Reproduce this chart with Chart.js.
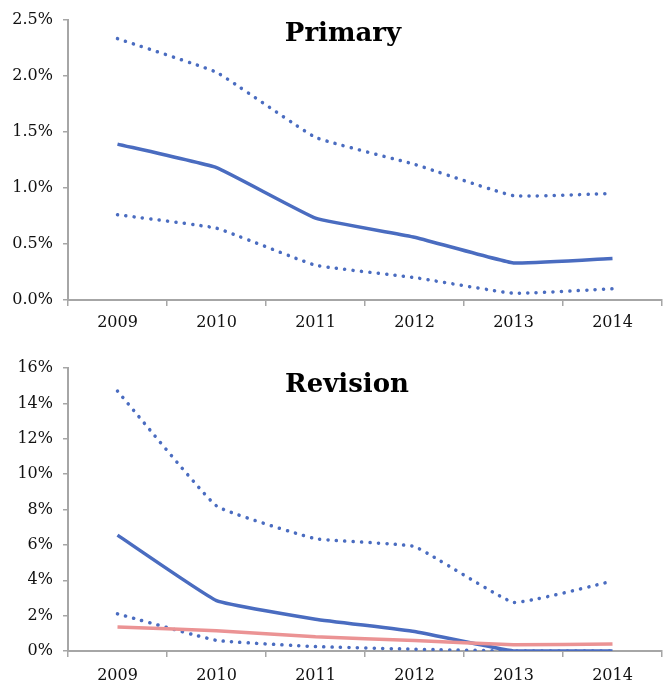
<!DOCTYPE html>
<html>
<head>
<meta charset="utf-8">
<script src="https://cdn.jsdelivr.net/npm/chart.js@4"></script>
<style>
  body { margin: 0; background: #fff; }
  .box { position: absolute; left: 0; width: 667px; }
</style>
</head>
<body>
<div class="box" style="top:0;height:340px"><canvas id="primary"></canvas></div>
<div class="box" style="top:340px;height:343px"><canvas id="revision"></canvas></div>
<script>
// data
const years = ["2009", "2010", "2011", "2012", "2013", "2014"];

const primaryMean = [1.39, 1.18, 0.73, 0.56, 0.33, 0.37];
const primaryUpper = [2.33, 2.03, 1.45, 1.21, 0.93, 0.95];
const primaryLower = [0.76, 0.64, 0.31, 0.20, 0.06, 0.10];
const primaryTicks = [0, 0.5, 1.0, 1.5, 2.0, 2.5];

const revisionMean = [6.55, 2.85, 1.8, 1.1, 0, 0];
const revisionUpper = [14.7, 8.2, 6.35, 5.9, 2.75, 3.95];
const revisionLower = [2.1, 0.6, 0.25, 0.1, 0, 0];
const revisionRef = [1.35, 1.15, 0.8, 0.6, 0.35, 0.4];
const revisionTicks = [0, 2, 4, 6, 8, 10, 12, 14, 16];

const blue = '#4a6cc0';
const red = '#eb9394';
const axisGray = '#a6a6a6';
const tickFont = { family: 'DejaVu Serif', size: 16 };

function solid(data, color) {
  return { data: data, borderColor: color, borderWidth: 3.5, pointRadius: 0, tension: 0.1, fill: false };
}
function dotted(data) {
  return { data: data, borderColor: blue, borderWidth: 3.5, borderDash: [0.1, 8.3],
           borderCapStyle: 'round', pointRadius: 0, tension: 0.1, fill: false };
}

// title drawn inside the plot area
const titlePlugin = {
  id: 'inTitle',
  afterDraw(chart, args, opts) {
    const ctx = chart.ctx;
    ctx.save();
    ctx.font = 'bold 26px "DejaVu Serif"';
    ctx.fillStyle = '#000';
    ctx.textAlign = 'center';
    ctx.textBaseline = 'middle';
    ctx.fillText(opts.text, opts.x, opts.y);
    ctx.restore();
  }
};

function makeChart(id, datasets, ticks, maxY, decimals, box, title) {
  return new Chart(document.getElementById(id), {
    type: 'line',
    data: { labels: years, datasets: datasets },
    plugins: [titlePlugin],
    options: {
      responsive: true,
      maintainAspectRatio: false,
      animation: false,
      layout: { padding: { top: box.top, right: 5, left: 0, bottom: 0 } },
      plugins: {
        legend: { display: false },
        tooltip: { enabled: false },
        inTitle: title
      },
      scales: {
        x: {
          offset: true,
          grid: { display: true, drawOnChartArea: false, offset: true, color: axisGray, tickLength: 6, lineWidth: 1.5 },
          border: { color: axisGray, width: 2 },
          ticks: { font: tickFont, color: '#111', padding: box.labelPad, maxRotation: 0 },
          afterFit(s) { s.height = box.xHeight; }
        },
        y: {
          min: 0,
          max: maxY,
          afterBuildTicks(s) { s.ticks = ticks.map(v => ({ value: v })); },
          grid: { display: true, drawOnChartArea: false, color: axisGray, tickLength: 5, lineWidth: 1.5 },
          border: { color: axisGray, width: 2 },
          ticks: { font: tickFont, color: '#111', padding: 10,
                   callback: v => v.toFixed(decimals) + '%' },
          afterFit(s) { s.width = 68; }
        }
      }
    }
  });
}

makeChart('primary',
  [dotted(primaryUpper), solid(primaryMean, blue), dotted(primaryLower)],
  primaryTicks, 2.5, 1,
  { top: 17, xHeight: 40, labelPad: 7 },
  { text: 'Primary', x: 343, y: 34 });

makeChart('revision',
  [dotted(revisionUpper), solid(revisionRef, red), solid(revisionMean, blue), dotted(revisionLower)],
  revisionTicks, 16, 0,
  { top: 28, xHeight: 32, labelPad: 9 },
  { text: 'Revision', x: 347, y: 45 });
</script>
</body>
</html>
